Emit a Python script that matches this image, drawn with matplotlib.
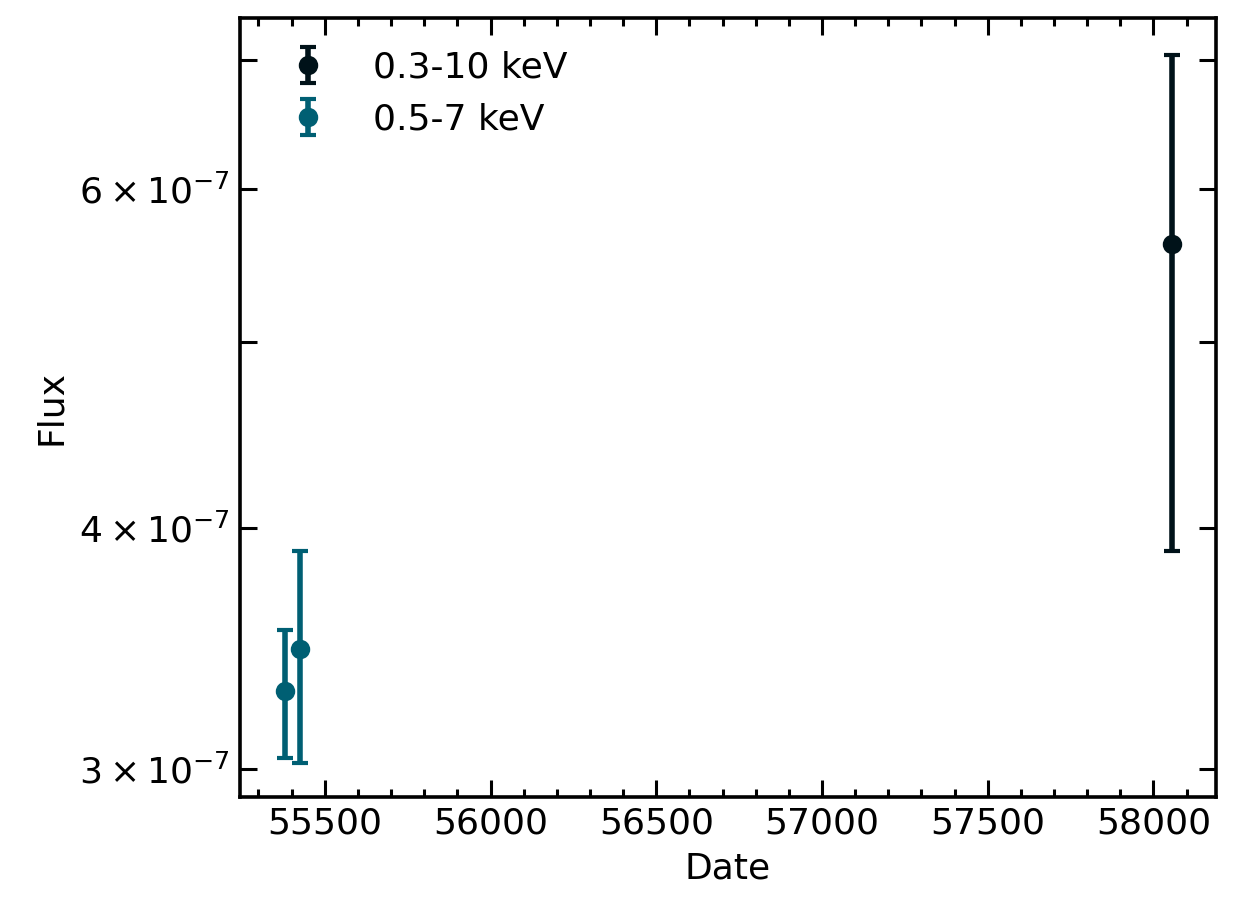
import numpy as np
import matplotlib.pyplot as plt
from matplotlib.ticker import LogFormatterSciNotation, NullFormatter, FixedLocator, MultipleLocator

# ---------------- data ----------------
date_a = [58057]
flux_a = [5.62e-7]
lo_a = [5.62e-7 - 3.89e-7]
hi_a = [7.04e-7 - 5.62e-7]

date_b = [55379, 55424]
flux_b = [3.29e-7, 3.46e-7]
lo_b = [3.29e-7 - 3.04e-7, 3.46e-7 - 3.02e-7]
hi_b = [3.54e-7 - 3.29e-7, 3.89e-7 - 3.46e-7]

plt.rcParams["font.size"] = 13

fig = plt.figure(figsize=(6.175, 4.575), dpi=200)
ax = fig.add_axes([0.194, 0.129, 0.791, 0.851])

ax.errorbar(date_a, flux_a, yerr=[lo_a, hi_a], fmt="o", color="#001219",
            capsize=3, elinewidth=2, capthick=1.5, ms=6, label="0.3-10 keV")
ax.errorbar(date_b, flux_b, yerr=[lo_b, hi_b], fmt="o", color="#005f73",
            capsize=3, elinewidth=2, capthick=1.5, ms=6, label="0.5-7 keV")

ax.set_yscale("log")
ax.set_xlim(55243, 58190)
ax.set_ylim(2.90e-7, 7.36e-7)
ax.yaxis.set_major_locator(FixedLocator([]))
ax.yaxis.set_minor_locator(FixedLocator([3e-7, 4e-7, 5e-7, 6e-7, 7e-7]))
fmt = LogFormatterSciNotation(labelOnlyBase=False)
ax.yaxis.set_minor_formatter(plt.FuncFormatter(
    lambda v, p: {3e-7: r"$3\times10^{-7}$", 4e-7: r"$4\times10^{-7}$",
                  6e-7: r"$6\times10^{-7}$"}.get(round(v, 14), "")))
ax.xaxis.set_major_locator(MultipleLocator(500))
ax.xaxis.set_minor_locator(MultipleLocator(100))

ax.tick_params(which="both", direction="in", top=True, right=True, width=1.1)
ax.tick_params(which="major", length=6)
ax.tick_params(axis="x", which="minor", length=3)
ax.tick_params(axis="y", which="minor", length=6)
for s in ax.spines.values():
    s.set_linewidth(1.3)

ax.set_xlabel("Date")
ax.set_ylabel("Flux")
ax.legend(loc="upper left", frameon=False)

fig.savefig("out.png", dpi=200)
